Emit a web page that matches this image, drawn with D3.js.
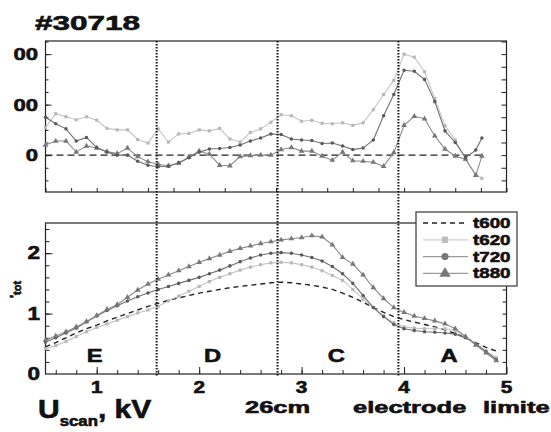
<!DOCTYPE html>
<html>
<head>
<meta charset="utf-8">
<script src="https://cdn.jsdelivr.net/npm/d3@7"></script>
<style>
  body { margin: 0; background: #fff; }
  text { font-family: "Liberation Sans", Arial, sans-serif; font-weight: bold; fill: #111; stroke: #111; stroke-width: 0.6px; }
</style>
</head>
<body>
<div id="chart"></div>
<script>
var w = 551;
var h = 432;
var stretch = 1.4;

// upper panel: difference to t600
var xsTop = [0.5, 0.6, 0.7, 0.8, 0.9, 1.0, 1.1, 1.2, 1.3, 1.4,
  1.5, 1.6, 1.7, 1.8, 1.9, 2.0, 2.1, 2.2, 2.3, 2.4,
  2.5, 2.6, 2.7, 2.8, 2.9, 3.0, 3.1, 3.2, 3.3, 3.4,
  3.5, 3.6, 3.7, 3.8, 3.9, 4.0, 4.1, 4.2, 4.3, 4.4,
  4.5, 4.6, 4.7, 4.76];
var diff620 = [55, 82, 76, 70, 76, 69, 53, 50, 50, 31,
  24, 52, 26, 42, 43, 50, 48, 53, 32, 26,
  45, 52, 65, 80, 78, 67, 69, 63, 62, 64,
  59, 64, 90, 120, 148, 200, 194, 165, 112, 58,
  30, -8, -38, -46];
var diff720 = [75, 62, 52, 28, 35, 15, 6, 0, 0, -12,
  -20, -23, -22, -15, -5, 6, 12, 13, 15, 20,
  28, 34, 42, 41, 32, 30, 29, 23, 24, 18,
  11, 14, 30, 78, 120, 168, 166, 150, 106, 48,
  25, -5, 10, 34];
var diff880 = [20, 28, 28, 6, 18, 14, 7, 3, 14, -3,
  -13, -18, -21, -16, -4, 8, 2, -20, -21, -3,
  -1, 0, 0, 11, 15, 8, 8, -2, -10, 6,
  -11, -12, -14, -22, 5, 59, 77, 72, 38, 12,
  -2, -8, -40, -2];

// lower panel: I_tot
var xsBottom = [0.5, 0.6, 0.7, 0.8, 0.9, 1.0, 1.1, 1.2, 1.3, 1.4,
  1.5, 1.6, 1.7, 1.8, 1.9, 2.0, 2.1, 2.2, 2.3, 2.4,
  2.5, 2.6, 2.7, 2.8, 2.9, 3.0, 3.1, 3.2, 3.3, 3.4,
  3.5, 3.6, 3.7, 3.8, 3.9, 4.0, 4.1, 4.2, 4.3, 4.4,
  4.5, 4.6, 4.7, 4.8, 4.9];
var tot600 = [0.45, 0.52, 0.60, 0.68, 0.75, 0.81, 0.88, 0.94, 1.00, 1.06,
  1.12, 1.17, 1.22, 1.26, 1.30, 1.34, 1.37, 1.40, 1.43, 1.45,
  1.47, 1.49, 1.51, 1.52, 1.51, 1.49, 1.47, 1.44, 1.40, 1.34,
  1.27, 1.19, 1.10, 1.02, 0.95, 0.90, 0.86, 0.82, 0.78, 0.73,
  0.67, 0.60, 0.52, 0.44, 0.38];
var tot620 = [0.42, 0.47, 0.54, 0.62, 0.70, 0.77, 0.83, 0.89, 0.95, 1.01,
  1.06, 1.12, 1.21, 1.29, 1.37, 1.45, 1.53, 1.60, 1.66, 1.72,
  1.77, 1.81, 1.84, 1.85, 1.84, 1.81, 1.77, 1.71, 1.63, 1.55,
  1.40, 1.24, 1.10, 0.96, 0.85, 0.78, 0.76, 0.75, 0.75, 0.75,
  0.72, 0.62, 0.50, 0.38, 0.27];
var tot720 = [0.53, 0.60, 0.68, 0.76, 0.86, 0.96, 1.05, 1.13, 1.21, 1.28,
  1.34, 1.40, 1.45, 1.50, 1.55, 1.60, 1.66, 1.72, 1.79, 1.86,
  1.92, 1.97, 2.00, 2.01, 2.00, 1.97, 1.93, 1.87, 1.78, 1.66,
  1.50, 1.30, 1.10, 0.95, 0.82, 0.75, 0.72, 0.70, 0.69, 0.68,
  0.66, 0.60, 0.50, 0.37, 0.24];
var tot880 = [0.56, 0.63, 0.70, 0.78, 0.87, 0.97, 1.07, 1.15, 1.27, 1.39,
  1.49, 1.57, 1.64, 1.71, 1.78, 1.85, 1.91, 1.97, 2.03, 2.08,
  2.12, 2.16, 2.19, 2.22, 2.24, 2.26, 2.29, 2.27, 2.14, 1.93,
  1.82, 1.64, 1.43, 1.25, 1.10, 1.02, 0.96, 0.92, 0.88, 0.83,
  0.75, 0.62, 0.48, 0.35, 0.22];

var seriesNames = ["t600", "t620", "t720", "t880"];
var boundaries = [1.585, 2.765, 3.945];
var regionNames = ["E", "D", "C", "A"];
var regionCenters = [0.98, 2.13, 3.34, 4.44];
var xTickLabels = [1, 2, 3, 4, 5];
var topTickValues = [200, 100, 0];
var topTickText = ["00", "00", "0"];
var botTickValues = [2, 1, 0];

var styles = {
  t600: { stroke: "#222", dash: "5,4", marker: null, fill: null },
  t620: { stroke: "#c4c4c4", dash: null, marker: d3.symbolSquare, fill: "#b8b8b8" },
  t720: { stroke: "#707070", dash: null, marker: d3.symbolCircle, fill: "#5a5a5a" },
  t880: { stroke: "#8c8c8c", dash: null, marker: d3.symbolTriangle, fill: "#777" }
};

var x = d3.scaleLinear().domain([0.5, 5]).range([45.5, 506.5]);
var yTop = d3.scaleLinear().domain([-73, 226]).range([192, 41]);
var yBot = d3.scaleLinear().domain([0, 2.5]).range([374, 223]);

var svg = d3.select("#chart").append("svg").attr("width", w).attr("height", h);
svg.append("rect").attr("width", w).attr("height", h).attr("fill", "#fff");

function addText(parent, px, py, str, size, anchor, sx) {
  return parent
    .append("text")
    .attr("transform", "translate(" + px + "," + py + ") scale(" + (sx || stretch) + ",1)")
    .attr("font-size", size)
    .attr("text-anchor", anchor || "start")
    .text(str);
}

function drawAxis(axis, tx, ty) {
  var g = svg.append("g").attr("transform", "translate(" + tx + "," + ty + ")").call(axis);
  g.select(".domain").remove();
  g.selectAll("line").attr("stroke", "#222").attr("stroke-width", 1);
  return g;
}

function drawSeries(xs, vals, yScale, name) {
  var st = styles[name];
  var pts = d3.zip(xs, vals);
  var line = d3
    .line()
    .x(function (d) {
      return x(d[0]);
    })
    .y(function (d) {
      return yScale(d[1]);
    });
  svg
    .append("path")
    .datum(pts)
    .attr("d", line)
    .attr("fill", "none")
    .attr("stroke", st.stroke)
    .attr("stroke-width", name === "t600" ? 1.4 : 1.1)
    .attr("stroke-dasharray", st.dash);
  if (st.marker) {
    svg
      .append("g")
      .selectAll("path")
      .data(pts)
      .enter()
      .append("path")
      .attr("d", d3.symbol().type(st.marker).size(name === "t880" ? 14 : 10))
      .attr("transform", function (d) {
        return "translate(" + x(d[0]) + "," + yScale(d[1]) + ")";
      })
      .attr("fill", st.fill);
  }
}

// frames
[[yTop, 41, 192], [yBot, 223, 374]].forEach(function (p) {
  svg
    .append("rect")
    .attr("x", x(0.5))
    .attr("y", p[1])
    .attr("width", x(5) - x(0.5))
    .attr("height", p[2] - p[1])
    .attr("fill", "none")
    .attr("stroke", "#222")
    .attr("stroke-width", 1.2);
});

// upper panel ticks
drawAxis(d3.axisBottom(x).tickValues(d3.range(0.5, 5.01, 0.25)).tickSize(-4).tickFormat(""), 0, 192);
drawAxis(d3.axisLeft(yTop).tickValues(d3.range(-50, 226, 25)).tickSize(-3).tickFormat(""), x(0.5), 0);
drawAxis(d3.axisLeft(yTop).tickValues(topTickValues).tickSize(-6).tickFormat(""), x(0.5), 0);
drawAxis(d3.axisRight(yTop).tickValues(d3.range(-50, 226, 25)).tickSize(-5).tickFormat(""), x(5), 0);

// lower panel ticks
drawAxis(d3.axisBottom(x).tickValues(d3.range(0.6, 5, 0.2)).tickSize(-4).tickFormat(""), 0, 374);
drawAxis(d3.axisBottom(x).tickValues(xTickLabels).tickSize(-7).tickFormat(""), 0, 374);
drawAxis(d3.axisLeft(yBot).tickValues(d3.range(0.2, 2.5, 0.2)).tickSize(-4).tickFormat(""), x(0.5), 0);
drawAxis(d3.axisLeft(yBot).tickValues([1, 2]).tickSize(-7).tickFormat(""), x(0.5), 0);
drawAxis(d3.axisRight(yBot).tickValues(d3.range(0.2, 2.5, 0.2)).tickSize(-4).tickFormat(""), x(5), 0);

// zero reference line in the upper panel
svg
  .append("line")
  .attr("x1", x(xsTop[0]))
  .attr("x2", x(xsTop[xsTop.length - 1]))
  .attr("y1", yTop(0))
  .attr("y2", yTop(0))
  .attr("stroke", "#222")
  .attr("stroke-width", 1.4)
  .attr("stroke-dasharray", "7,4");

drawSeries(xsTop, diff620, yTop, "t620");
drawSeries(xsTop, diff880, yTop, "t880");
drawSeries(xsTop, diff720, yTop, "t720");

drawSeries(xsBottom, tot600, yBot, "t600");
drawSeries(xsBottom, tot620, yBot, "t620");
drawSeries(xsBottom, tot720, yBot, "t720");
drawSeries(xsBottom, tot880, yBot, "t880");

// region boundaries
svg
  .selectAll(".bound")
  .data(boundaries)
  .enter()
  .append("line")
  .attr("x1", function (d) {
    return x(d);
  })
  .attr("x2", function (d) {
    return x(d);
  })
  .attr("y1", 41)
  .attr("y2", 376)
  .attr("stroke", "#111")
  .attr("stroke-width", 2)
  .attr("stroke-dasharray", "1.5,1.5");

regionNames.forEach(function (r, i) {
  addText(svg, x(regionCenters[i]), 362, r, 19, "middle", 1.25);
});

// tick labels
xTickLabels.forEach(function (d) {
  addText(svg, x(d), 393, d, 16, "middle", 1.3);
});
botTickValues.forEach(function (d) {
  addText(svg, 40, yBot(d) + 6, d, 18, "end", 1.25);
});
topTickValues.forEach(function (d, i) {
  addText(svg, 38, yTop(d) + 6, topTickText[i], 17, "end", 1.3);
});

// titles
addText(svg, 35, 30, "#30718", 21, "start", 1.5);

var ut = addText(svg, 38, 418, "U", 25, "start", 1.2);
ut.append("tspan").attr("font-size", 14).attr("dy", 8).text("scan");
ut.append("tspan").attr("font-size", 25).attr("dy", -8).text(", kV");

addText(svg, 245, 413, "26cm", 17, "start", 1.5);
addText(svg, 353, 413, "electrode", 17, "start", 1.5);
addText(svg, 483, 413, "limite", 17, "start", 1.5);

var yt = svg.append("text").attr("transform", "translate(19,298) rotate(-90)").attr("font-size", 13);
yt.append("tspan").text("'");
yt.append("tspan").attr("font-size", 11).attr("dy", 2).text("tot");

// legend
var legend = svg.append("g").attr("transform", "translate(416,212)");
legend
  .append("rect")
  .attr("width", 101)
  .attr("height", 74)
  .attr("fill", "#fff")
  .attr("stroke", "#444")
  .attr("stroke-width", 1.3);

seriesNames.forEach(function (name, i) {
  var st = styles[name];
  var ly = 11 + i * 16.8;
  legend
    .append("line")
    .attr("x1", 7)
    .attr("x2", 52)
    .attr("y1", ly)
    .attr("y2", ly)
    .attr("stroke", name === "t600" ? "#222" : name === "t620" ? "#cfcfcf" : "#9a9a9a")
    .attr("stroke-width", 1.3)
    .attr("stroke-dasharray", st.dash);
  if (st.marker) {
    legend
      .append("path")
      .attr("d", d3.symbol().type(st.marker).size(name === "t880" ? 55 : 40))
      .attr("transform", "translate(29," + ly + ")")
      .attr("fill", name === "t620" ? "#bdbdbd" : "#777");
  }
  addText(legend, 57, ly + 5, name, 15, "start", 1.25);
});
</script>
</body>
</html>
